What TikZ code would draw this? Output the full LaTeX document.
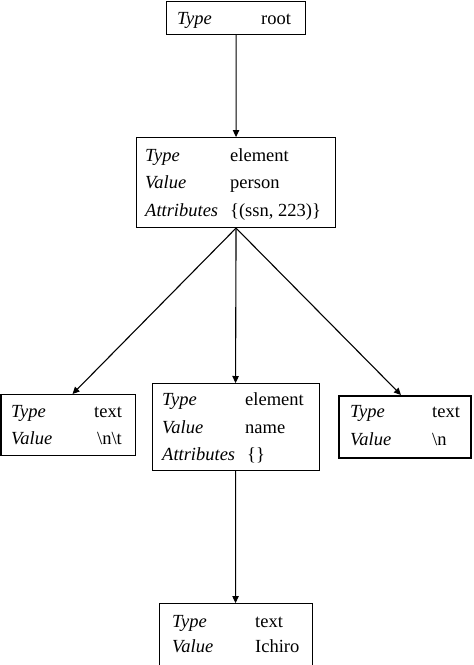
\documentclass[tikz,border=0pt]{standalone}
\usepackage{fontspec}
\setmainfont{Liberation Serif}
\usetikzlibrary{arrows.meta}
\begin{document}
\begin{tikzpicture}[x=1bp,y=-1bp,
  box/.style={draw=black, line width=1.1bp, inner sep=0pt, anchor=north west},
  thickbox/.style={box, line width=2bp},
  lab/.style={inner sep=0pt, anchor=base west, font=\fontsize{18.5bp}{20bp}\selectfont\itshape},
  val/.style={inner sep=0pt, anchor=base west, font=\fontsize{18.5bp}{20bp}\selectfont},
  conn/.style={draw=black, line width=1.1bp, -{Triangle[length=7bp,width=6.5bp]}}]
\useasboundingbox (0,0) rectangle (474,665);
% root
\node[box, minimum width=139bp, minimum height=33bp] (root) at (166,1) {};
\node[lab] (rootT) at (177,25) {Type};
\node[val] (rootTv) at (261,25) {root};
% element person
\node[box, minimum width=199bp, minimum height=90bp] (elem) at (136,137) {};
\node[lab] (elemT) at (145,161) {Type};
\node[val] (elemTv) at (230,161) {element};
\node[lab] (elemV) at (145,188) {Value};
\node[val] (elemVv) at (230,188) {person};
\node[lab] (elemA) at (145,216) {Attributes};
\node[val] (elemAv) at (230,216) {\{(ssn, 223)\}};
% left text
\node[box, minimum width=134bp, minimum height=61bp] (left) at (0.5,394) {};
\node[lab] (leftT) at (11,417) {Type};
\node[val] (leftTv) at (94,417) {text};
\node[lab] (leftV) at (11,444) {Value};
\node[val] (leftVv) at (97,444) {\textbackslash n\textbackslash t};
% middle element name
\node[box, minimum width=167bp, minimum height=87bp] (mid) at (151.5,383) {};
\node[lab] (midT) at (162,405) {Type};
\node[val] (midTv) at (245,405) {element};
\node[lab] (midV) at (162,433) {Value};
\node[val] (midVv) at (245,433) {name};
\node[lab] (midA) at (162,460) {Attributes};
\node[val] (midAv) at (247,460) {\{\}};
% right text
\node[thickbox, minimum width=132bp, minimum height=62bp] (right) at (338,395) {};
\node[lab] (rightT) at (350,417) {Type};
\node[val] (rightTv) at (432,417) {text};
\node[lab] (rightV) at (350,445) {Value};
\node[val] (rightVv) at (432,445) {\textbackslash n};
% bottom text Ichiro
\node[box, minimum width=153bp, minimum height=80bp] (bot) at (158.5,603) {};
\node[lab] (botT) at (172,627) {Type};
\node[val] (botTv) at (255,627) {text};
\node[lab] (botV) at (172,652) {Value};
\node[val] (botVv) at (255,652) {Ichiro};
% connectors
\draw[conn] (root.south) -- (elem.north);
\draw[conn] (elem.south) -- ([xshift=4.5bp]left.north);
\draw[conn] (elem.south) -- (mid.north);
\draw[conn] (elem.south) -- ([xshift=-4bp]right.north);
\draw[conn] (mid.south) -- (bot.north);
\end{tikzpicture}
\end{document}
